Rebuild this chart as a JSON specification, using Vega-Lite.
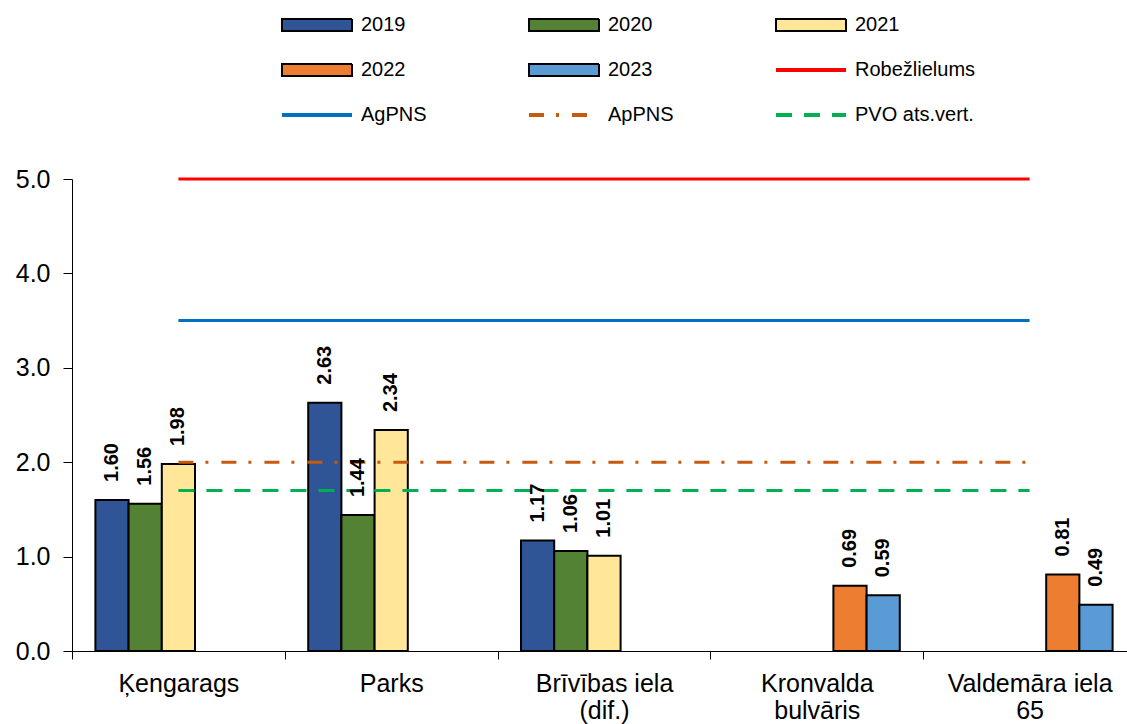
{
  "$schema": "https://vega.github.io/schema/vega-lite/v6.json",
  "autosize": {"type": "none"},
  "width": 1055,
  "height": 472,
  "padding": {"left": 72, "top": 179, "right": 0, "bottom": 73},
  "background": "white",
  "config": {"view": {"stroke": null}, "font": "Liberation Sans"},
  "datasets": {
    "bars": [
      {"cat": "Ķengarags", "series": "2019", "value": 1.60},
      {"cat": "Ķengarags", "series": "2020", "value": 1.56},
      {"cat": "Ķengarags", "series": "2021", "value": 1.98},
      {"cat": "Parks", "series": "2019", "value": 2.63},
      {"cat": "Parks", "series": "2020", "value": 1.44},
      {"cat": "Parks", "series": "2021", "value": 2.34},
      {"cat": "Brīvības iela (dif.)", "series": "2019", "value": 1.17},
      {"cat": "Brīvības iela (dif.)", "series": "2020", "value": 1.06},
      {"cat": "Brīvības iela (dif.)", "series": "2021", "value": 1.01},
      {"cat": "Kronvalda bulvāris", "series": "2022", "value": 0.69},
      {"cat": "Kronvalda bulvāris", "series": "2023", "value": 0.59},
      {"cat": "Valdemāra iela 65", "series": "2022", "value": 0.81},
      {"cat": "Valdemāra iela 65", "series": "2023", "value": 0.49}
    ],
    "lines": [
      {"cat": "Ķengarags", "series": "Robežlielums", "value": 5.0},
      {"cat": "Valdemāra iela 65", "series": "Robežlielums", "value": 5.0},
      {"cat": "Ķengarags", "series": "AgPNS", "value": 3.5},
      {"cat": "Valdemāra iela 65", "series": "AgPNS", "value": 3.5},
      {"cat": "Ķengarags", "series": "ApPNS", "value": 2.0},
      {"cat": "Valdemāra iela 65", "series": "ApPNS", "value": 2.0},
      {"cat": "Ķengarags", "series": "PVO ats.vert.", "value": 1.7},
      {"cat": "Valdemāra iela 65", "series": "PVO ats.vert.", "value": 1.7}
    ]
  },
  "encoding": {
    "x": {
      "field": "cat",
      "type": "nominal",
      "sort": null,
      "scale": {
        "domain": ["Ķengarags", "Parks", "Brīvības iela (dif.)", "Kronvalda bulvāris", "Valdemāra iela 65"],
        "range": [0, 1064],
        "paddingInner": 0,
        "paddingOuter": 0
      },
      "axis": {
        "title": null,
        "labelAngle": 0,
        "labelFontSize": 25,
        "labelFont": "Liberation Sans",
        "labelColor": "black",
        "tickBand": "extent",
        "tickSize": 8,
        "tickColor": "black",
        "domainColor": "black",
        "labelPadding": 12,
        "labelLineHeight": 27,
        "labelLimit": 400,
        "labelExpr": "datum.value == 'Brīvības iela (dif.)' ? ['Brīvības iela', '(dif.)'] : datum.value == 'Kronvalda bulvāris' ? ['Kronvalda', 'bulvāris'] : datum.value == 'Valdemāra iela 65' ? ['Valdemāra iela', '65'] : datum.value"
      }
    },
    "y": {
      "field": "value",
      "type": "quantitative",
      "scale": {"domain": [0, 5], "nice": false},
      "axis": {
        "title": null,
        "values": [0, 1, 2, 3, 4, 5],
        "format": ".1f",
        "grid": false,
        "labelFontSize": 25,
        "labelFont": "Liberation Sans",
        "labelColor": "black",
        "tickSize": 9,
        "tickColor": "black",
        "domainColor": "black",
        "labelPadding": 13
      }
    }
  },
  "layer": [
    {
      "data": {"name": "bars"},
      "mark": {"type": "bar", "stroke": "black", "strokeWidth": 2},
      "encoding": {
        "xOffset": {
          "field": "series",
          "type": "nominal",
          "scale": {"domain": ["2019", "2020", "2021", "2022", "2023"], "paddingInner": 0, "paddingOuter": 0.705}
        },
        "color": {
          "field": "series",
          "type": "nominal",
          "scale": {
            "domain": ["2019", "2020", "2021", "2022", "2023", "Robežlielums", "AgPNS", "ApPNS", "PVO ats.vert."],
            "range": ["#2F5597", "#548235", "#FFE699", "#ED7D31", "#5B9BD5", "#FF0000", "#0070C0", "#C55A11", "#00B050"]
          },
          "legend": {
            "title": null,
            "orient": "none",
            "legendX": 207,
            "legendY": -164,
            "direction": "horizontal",
            "columns": 3,
            "gridAlign": "all",
            "columnPadding": 39,
            "rowPadding": 25,
            "symbolSize": 196,
            "symbolLimit": 0,
            "symbolStrokeColor": "black",
            "symbolStrokeWidth": 2,
            "labelLimit": 300,
            "labelFontSize": 20,
            "labelFont": "Liberation Sans",
            "labelColor": "black",
            "labelOffset": 62,
            "encoding": {
              "symbols": {
                "shape": {"value": {"expr": "indexof(['Robežlielums','AgPNS','ApPNS','PVO ats.vert.'], datum.value) >= 0 ? 'M-1,0H9' : 'M-1,-0.85H9V0.85H-1Z'"}},
                "stroke": {"value": {"expr": "indexof(['Robežlielums','AgPNS','ApPNS','PVO ats.vert.'], datum.value) >= 0 ? scale('color', datum.value) : '#000000'"}},
                "strokeWidth": {"value": {"expr": "indexof(['Robežlielums','AgPNS','ApPNS','PVO ats.vert.'], datum.value) >= 0 ? 4 : 2"}},
                "strokeDash": {"value": {"expr": "datum.value == 'ApPNS' ? [15,12,3,13] : datum.value == 'PVO ats.vert.' ? [16,12] : [1,0]"}},
                "strokeOpacity": {"value": 1},
                "fillOpacity": {"value": 1},
                "opacity": {"value": 1}
              }
            }
          }
        }
      }
    },
    {
      "data": {"name": "lines"},
      "mark": {"type": "line", "strokeWidth": 3},
      "encoding": {
        "stroke": {
          "field": "series",
          "type": "nominal",
          "scale": {
            "domain": ["Robežlielums", "AgPNS", "ApPNS", "PVO ats.vert."],
            "range": ["#FF0000", "#0070C0", "#C55A11", "#00B050"]
          },
          "legend": null
        },
        "strokeDash": {
          "field": "series",
          "type": "nominal",
          "scale": {
            "domain": ["Robežlielums", "AgPNS", "ApPNS", "PVO ats.vert."],
            "range": [[1, 0], [1, 0], [15, 12, 3, 13], [16, 12]]
          },
          "legend": null
        }
      }
    },
    {
      "data": {"name": "bars"},
      "mark": {"type": "text", "angle": 270, "align": "left", "baseline": "middle", "dx": 18, "fontSize": 20, "fontWeight": "bold", "font": "Liberation Sans", "color": "black"},
      "encoding": {
        "xOffset": {"field": "series", "type": "nominal"},
        "text": {"field": "value", "type": "quantitative", "format": ".2f"}
      }
    }
  ]
}
